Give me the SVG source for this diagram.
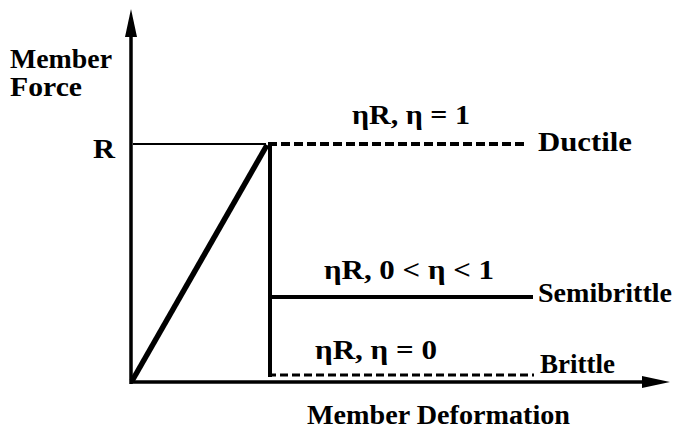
<svg xmlns="http://www.w3.org/2000/svg" width="677" height="433" viewBox="0 0 677 433">
<style>
.t{font-family:'Liberation Serif','Times New Roman',serif;font-weight:bold;font-size:27px;fill:#000}
.ln{stroke:#000;fill:none;stroke-linecap:butt}
</style>
<rect width="677" height="433" fill="#fff"/>
<g id="connectors">
<line class="ln" x1="131" y1="384" x2="131" y2="30" stroke-width="3.5"/>
<polygon points="131,9 125,37 137,37" fill="#000"/>
<line class="ln" x1="130" y1="382" x2="648" y2="382" stroke-width="3.5"/>
<polygon points="670,382 642,376 642,388" fill="#000"/>
<line class="ln" x1="133" y1="144" x2="266" y2="144" stroke-width="1.8"/>
<line class="ln" x1="132" y1="381" x2="267" y2="145" stroke-width="5.5" stroke-linecap="round"/>
<line class="ln" x1="270" y1="143" x2="270" y2="377" stroke-width="4"/>
<line class="ln" x1="268" y1="144" x2="524" y2="144" stroke-width="4" stroke-dasharray="9,4"/>
<line class="ln" x1="268" y1="297" x2="533" y2="297" stroke-width="4"/>
<line class="ln" x1="268" y1="375" x2="534" y2="375" stroke-width="3" stroke-dasharray="8,4"/>
</g>
<g id="axis-labels">
<text class="t" x="10" y="68" textLength="102" lengthAdjust="spacingAndGlyphs">Member</text>
<text class="t" x="10" y="96" textLength="72" lengthAdjust="spacingAndGlyphs">Force</text>
<text class="t" x="93" y="158" textLength="22" lengthAdjust="spacingAndGlyphs">R</text>
<text class="t" x="307" y="424" textLength="263" lengthAdjust="spacingAndGlyphs">Member Deformation</text>
</g>
<g id="ductile">
<text class="t" x="352" y="124" textLength="118" lengthAdjust="spacingAndGlyphs">ηR, η = 1</text>
<text class="t" x="538" y="151" textLength="94" lengthAdjust="spacingAndGlyphs">Ductile</text>
</g>
<g id="semibrittle">
<text class="t" x="324" y="279" textLength="170" lengthAdjust="spacingAndGlyphs">ηR, 0 &lt; η &lt; 1</text>
<text class="t" x="538" y="302" textLength="134" lengthAdjust="spacingAndGlyphs">Semibrittle</text>
</g>
<g id="brittle">
<text class="t" x="315" y="359" textLength="122" lengthAdjust="spacingAndGlyphs">ηR, η = 0</text>
<text class="t" x="540" y="373" textLength="75" lengthAdjust="spacingAndGlyphs">Brittle</text>
</g>
</svg>
